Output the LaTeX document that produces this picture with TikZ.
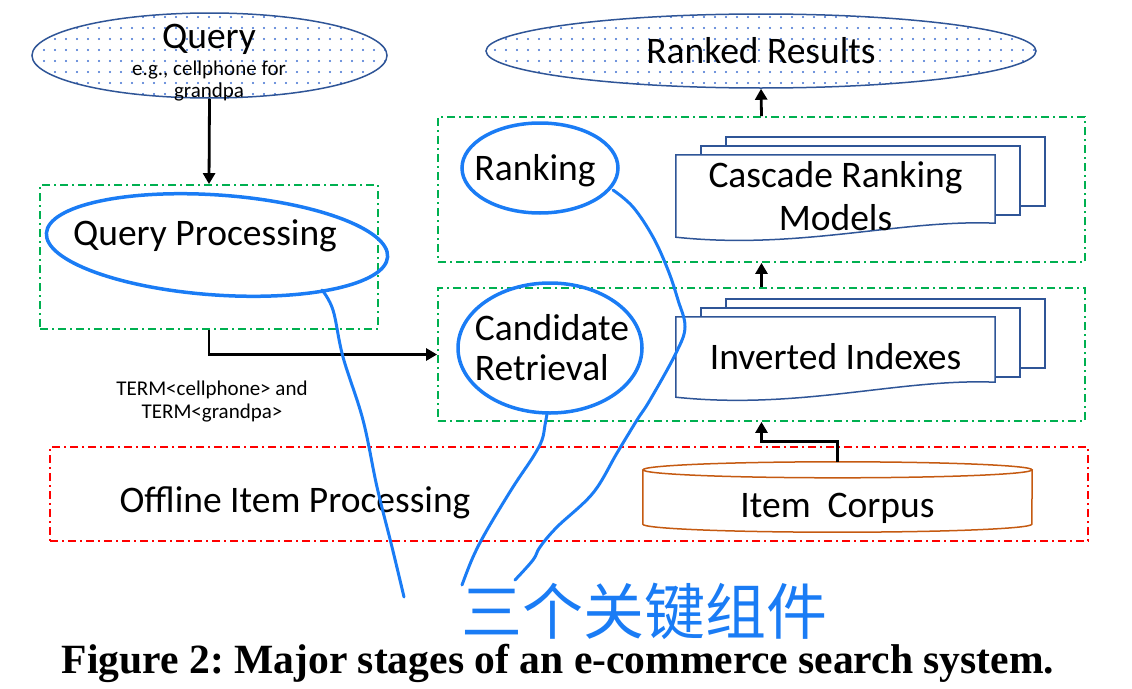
\documentclass[tikz,border=0pt]{standalone}
\usepackage{fontspec}
\setmainfont{Carlito}
\newfontfamily\capfont{Liberation Serif}
\newfontfamily\cjkfont{Noto Sans CJK SC}
\usetikzlibrary{arrows.meta,positioning,calc,shapes.geometric,patterns.meta,backgrounds}
\definecolor{stage}{HTML}{00B050}
\definecolor{offl}{HTML}{FF0000}
\definecolor{ioline}{HTML}{2F5597}
\definecolor{iodots}{HTML}{3F6FD0}
\definecolor{corpusc}{HTML}{C55A11}
\definecolor{pen}{HTML}{1A7CF5}
\newcommand{\bigtxt}{\fontsize{37.5}{43}\selectfont}
\newcommand{\smalltxt}{\fontsize{21}{21}\selectfont}

\begin{document}
\begin{tikzpicture}[
  x=1pt, y=-1pt, >={Triangle[length=11pt,width=12pt]},
  io/.style={ellipse, draw=ioline, line width=1.5pt, pattern={Dots[distance=11pt,radius=1.2pt]}, pattern color=iodots, inner sep=0pt},
  stagebox/.style={draw=stage, line width=1.8pt, dash pattern=on 8pt off 4pt on 2pt off 4pt, inner sep=0pt},
  offbox/.style={draw=offl, line width=1.8pt, dash pattern=on 8pt off 4pt on 2pt off 4pt, inner sep=0pt},
  txt/.style={font=\bigtxt, inner sep=0pt},
  docframe/.style={txt, align=center, minimum width=319pt},
  doc/.style={draw=ioline, line width=1.5pt, fill=white},
  cyl/.style={draw=corpusc, line width=1.5pt, fill=white},
  flow/.style={->, line width=2.8pt},
  ring/.style={ellipse, draw=pen, line width=3.5pt, inner sep=0pt},
  scrawl/.style={draw=pen, line width=3pt, line cap=round, line join=round},
]
\useasboundingbox (0,0) rectangle (1132,688);
% query in, ranked results out
\node[io, minimum width=355pt, minimum height=85pt] (query) at (209.5,55.5) {};
\node[font=\smalltxt, align=center, inner sep=0pt, anchor=north] (querytxt) at (209,24) {{\bigtxt Query}\\[6pt]e.g., cellphone for\\[1pt]grandpa};
\node[io, txt, minimum width=550pt, minimum height=74pt] (ranked) at (761,51) {Ranked Results};
% online stages
\node[stagebox, minimum width=338pt, minimum height=144pt] (gq) at (209,257) {};
\node[stagebox, minimum width=647pt, minimum height=145pt] (gr) at (761.5,189.5) {};
\node[stagebox, minimum width=647pt, minimum height=133pt] (gc) at (761.5,354.5) {};
\node[txt, anchor=base] (qp) at (205,245) {Query Processing};
\node[txt, anchor=base] (rank) at (535,180) {Ranking};
\node[txt, align=left, anchor=north] (cand) at (552,314) {Candidate\\[-3pt]Retrieval};
\node[docframe, minimum height=82pt] (crm) at (835.5,196) {Cascade Ranking\\Models};
\node[docframe, minimum height=80pt] (inv) at (835.5,357) {Inverted Indexes};
\node[font=\smalltxt, align=center, inner sep=0pt, anchor=north] (term) at (212,381) {TERM<cellphone> and\\[2pt]TERM<grandpa>};
% offline part
\node[offbox, minimum width=1038pt, minimum height=94pt] (offline) at (569,494) {};
\node[txt, anchor=base] (offtxt) at (295,512) {Offline Item Processing};
\node[txt, minimum width=389pt, minimum height=54pt, text height=40pt, text depth=0pt] (corpus) at (837.5,497) {Item\ \ Corpus};
% stacked documents and the corpus drum
\begin{scope}[on background layer]
\foreach \k in {2,1} {
  \draw[doc] ($(crm.north west)+(25*\k,-9*\k)$) rectangle ++(319,69);
  \draw[doc] ($(inv.north west)+(25*\k,-9*\k)$) rectangle ++(319,69);
}
\draw[doc] (crm.north west) -- (crm.north east) -- ($(crm.south east)+(0,-14)$) .. controls +(-95,-4) and +(124,13) .. (crm.south west) -- cycle;
\draw[doc] (inv.north west) -- (inv.north east) -- ($(inv.south east)+(0,-15)$) .. controls +(-95,-4) and +(124,13) .. (inv.south west) -- cycle;
\draw[cyl] (corpus.north west) -- (corpus.south west) arc[start angle=180, end angle=0, x radius=194.5, y radius=8] -- (corpus.north east);
\draw[cyl] (corpus.north) ellipse[x radius=194.5, y radius=8];
\end{scope}
% flow of the query
\draw[flow] (query.south) -- (gq.north);
\draw[flow] (gq.south) |- (gc.west);
\draw[flow] (gc.north) -- (gr.south);
\draw[flow] (gr.north) -- (ranked.south);
\draw[flow] ($(corpus.north)+(0,-8)$) -- ++(0,-20) -| (gc.south);
% pen notes on top
\node[ring, minimum width=342pt, minimum height=100pt, rotate=-4] (qpring) at (217,245) {};
\node[ring, minimum width=156pt, minimum height=90pt] (rankring) at (540,168) {};
\node[ring, minimum width=184pt, minimum height=130pt] (candring) at (550,348) {};
\draw[scrawl] plot[smooth, tension=0.6] coordinates {(322,290) (333,310) (343,357) (363,420) (377,487) (392,547) (404,597)};
\draw[scrawl] plot[smooth, tension=0.6] coordinates {(613,190) (633,207) (653,237) (668,270) (678,300) (685,327) (676,353) (650,400) (637,420) (617,453) (593,493) (557,527) (540,547) (533,560) (515,580)};
\draw[scrawl] plot[smooth, tension=0.6] coordinates {(547,414) (545,425) (542,440) (533,457) (513,487) (487,530) (473,557) (462,585)};
\node[font=\cjkfont\fontsize{61}{61}\selectfont, text=pen, inner sep=0pt, anchor=base] (note) at (644,634) {三个关键组件};
% caption
\node[font=\capfont\bfseries\fontsize{41.6}{44}\selectfont, inner sep=0pt, anchor=base] (caption) at (558,673) {\frenchspacing Figure 2: Major stages of an e-commerce search system.};
\end{tikzpicture}
\end{document}
